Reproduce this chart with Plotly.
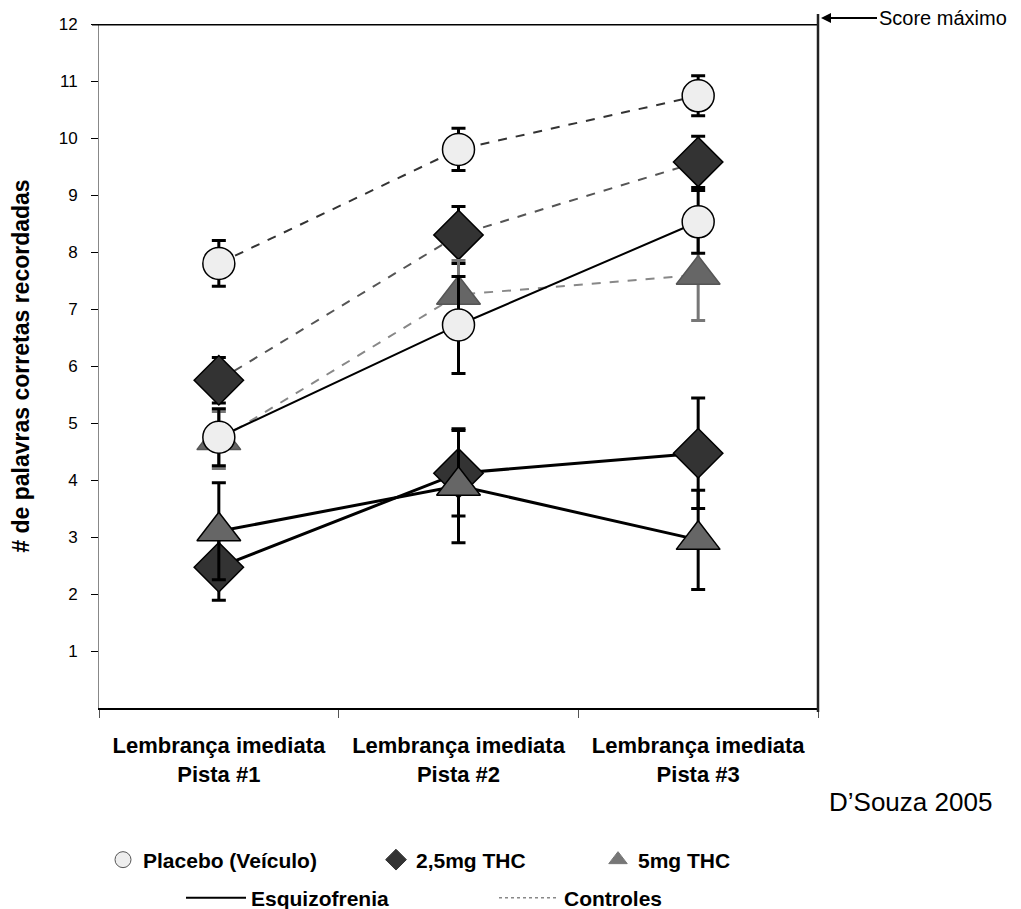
import plotly.graph_objects as go

categories = ["<b>Lembrança imediata<br>Pista #1</b>", "<b>Lembrança imediata<br>Pista #2</b>", "<b>Lembrança imediata<br>Pista #3</b>"]
xpos = [0, 1, 2]

# Esquizofrenia (solid lines)
sz_placebo = [4.75, 6.72, 8.53]
sz_placebo_err = [0.5, 0.85, 0.55]
sz_thc25 = [2.47, 4.12, 4.47]
sz_thc25_err = [0.58, 0.75, 0.97]
sz_thc5 = [3.1, 3.9, 2.95]
sz_thc5_err = [0.85, 1.0, 0.87]

# Controles (dashed lines)
ct_placebo = [7.8, 9.8, 10.74]
ct_placebo_err = [0.4, 0.37, 0.35]
ct_thc25 = [5.75, 8.3, 9.58]
ct_thc25_err = [0.4, 0.5, 0.45]
ct_thc5 = [4.7, 7.25, 7.6]
ct_thc5_err = [0.5, 0.6, 0.8]

ytick_vals = [1, 2, 3, 4, 5, 6, 7, 8, 9, 10, 11, 12]
max_score = 12

SANS = "Liberation Sans, Arial, sans-serif"

fig = go.Figure()

def add(y, err, symbol, fill, ecolor, lcolor, dash, lwidth, size, mline="black"):
    fig.add_trace(go.Scatter(
        x=xpos, y=y, mode="lines+markers",
        line=dict(color=lcolor, width=lwidth, dash=dash),
        marker=dict(symbol=symbol, size=size, color=fill, line=dict(color=mline, width=1.5)),
        error_y=dict(type="data", array=err, visible=True, color=ecolor, thickness=3, width=7),
        showlegend=False, hoverinfo="skip"))

# controls
add(ct_placebo, ct_placebo_err, "circle", "#eeeeee", "black", "#333333", "dash", 2, 32)
add(ct_thc25, ct_thc25_err, "diamond", "#333333", "black", "#555555", "dash", 2, 38)
add(ct_thc5, ct_thc5_err, "triangle-up", "#666666", "#777777", "#888888", "dash", 2, 38, "#555555")
# schizophrenia
add(sz_placebo, sz_placebo_err, "circle", "#eeeeee", "black", "black", "solid", 2, 32)
add(sz_thc25, sz_thc25_err, "diamond", "#333333", "black", "black", "solid", 3, 38)
add(sz_thc5, sz_thc5_err, "triangle-up", "#666666", "black", "black", "solid", 3, 38)

# legend-only traces
leg_items = [
    ("<b>Placebo (Veículo)</b>", dict(mode="markers", marker=dict(symbol="circle", size=16, color="#eeeeee", line=dict(color="#555555", width=1))), "legend"),
    ("<b>2,5mg THC</b>", dict(mode="markers", marker=dict(symbol="diamond", size=16, color="#333333", line=dict(color="#333333", width=1))), "legend2"),
    ("<b>5mg THC</b>", dict(mode="markers", marker=dict(symbol="triangle-up", size=16, color="#777777", line=dict(color="#777777", width=1))), "legend3"),
    ("<b>Esquizofrenia</b>", dict(mode="lines", line=dict(color="black", width=2)), "legend4"),
    ("<b>Controles</b>", dict(mode="lines", line=dict(color="#888888", width=1.5, dash="dot")), "legend5"),
]
for name, kw, lg in leg_items:
    fig.add_trace(go.Scatter(x=[None], y=[None], name=name, showlegend=True, legend=lg, **kw))

# page offset (browser body margin)
OFF = 8
W, H = 1021 - OFF, 909 - OFF
PL, PR, PT, PB = 99, 818, 24, 708  # plot area in page pixels

def px_x(p):
    return (p - PL) / float(PR - PL)

def px_y(p):
    return (PB - p) / float(PB - PT)

legfont = dict(family=SANS, size=21, color="black")
def leg(xp, yp, iw=30):
    return dict(x=(xp - OFF) / W, y=1 - (yp - OFF) / H, xref="container", yref="container",
                xanchor="left", yanchor="middle", font=legfont,
                bgcolor="rgba(0,0,0,0)", itemwidth=iw, orientation="h")

fig.update_layout(
    width=W, height=H,
    margin=dict(l=PL - OFF, r=W - (PR - OFF), t=PT - OFF, b=H - (PB - OFF), autoexpand=False),
    paper_bgcolor="white", plot_bgcolor="white",
    xaxis=dict(range=[-0.5, 2.5], tickvals=xpos, ticktext=categories, automargin=False,
               ticks="", showgrid=False, zeroline=False, ticklabelstandoff=17,
               showline=True, linecolor="black", linewidth=2,
               tickfont=dict(family=SANS, size=22, color="black"),
               minor=dict(tick0=-0.5, dtick=1, ticks="outside", ticklen=8, tickcolor="#555555", tickwidth=1, showgrid=False)),
    yaxis=dict(range=[0, max_score], tickvals=ytick_vals, ticks="outside", ticklen=7, automargin=False,
               tickcolor="black", showgrid=False, zeroline=False, ticklabelstandoff=10,
               showline=True, linecolor="#888888", linewidth=1,
               tickfont=dict(family=SANS, size=17, color="black"),
               title=dict(text="<b># de palavras corretas recordadas</b>",
                          font=dict(family=SANS, size=23, color="black"), standoff=22)),
    legend=leg(103, 860), legend2=leg(376, 860), legend3=leg(598, 860),
    legend4=leg(181, 898, 60), legend5=leg(494, 898, 60),
)

# max score line and right border
fig.add_shape(type="line", xref="paper", yref="y", x0=px_x(92), x1=px_x(819), y0=max_score, y1=max_score,
              line=dict(color="black", width=3))
fig.add_shape(type="line", xref="paper", yref="paper", x0=px_x(818), x1=px_x(818), y0=px_y(712), y1=px_y(14),
              line=dict(color="#222222", width=2.5))

fig.add_annotation(x=px_x(821), y=px_y(18), xref="paper", yref="paper", text="Score máximo",
                   showarrow=True, ax=56, ay=0, xanchor="left", arrowhead=2, arrowsize=1, arrowwidth=2,
                   arrowcolor="black", font=dict(family=SANS, size=20, color="black"))
fig.add_annotation(x=px_x(994), y=px_y(802), xref="paper", yref="paper", text="D’Souza 2005",
                   showarrow=False, xanchor="right", yanchor="middle",
                   font=dict(family=SANS, size=26, color="black"))

fig.write_html("out.html")
